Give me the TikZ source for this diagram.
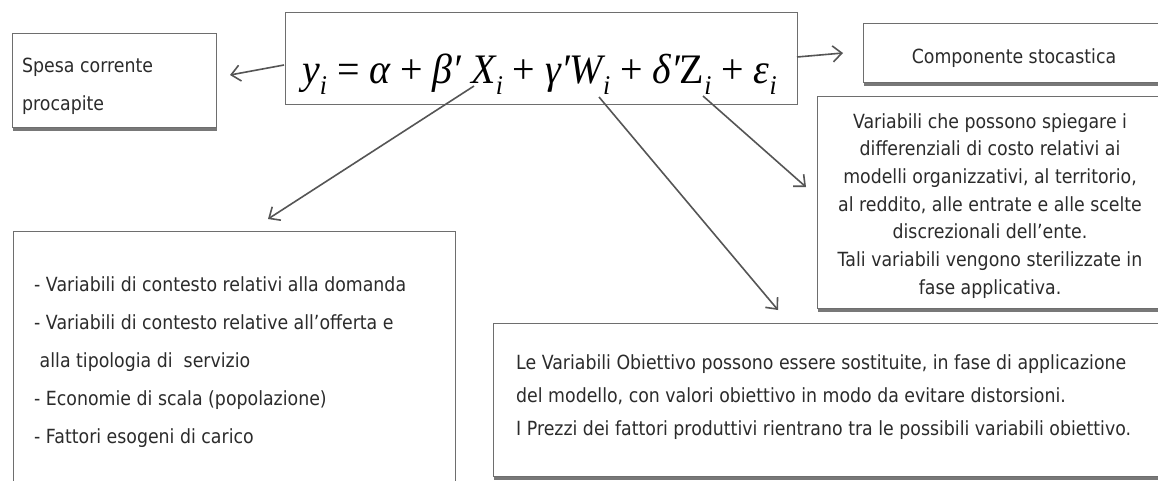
\documentclass[tikz,border=0pt]{standalone}
\usepackage{fontspec}
\setmainfont{DejaVu Sans}[FakeStretch=0.89]
\newfontfamily\eqfont{Liberation Serif}[FakeStretch=0.95]
\usetikzlibrary{arrows.meta,shadows}
\definecolor{boxgray}{HTML}{6E6E6E}
\definecolor{textgray}{HTML}{2B2B2B}
\definecolor{arrgray}{HTML}{555555}
\newcommand{\sbi}{\raisebox{-0.28em}{\fontsize{27}{27}\selectfont\itshape i}}
\begin{document}
\begin{tikzpicture}[x=1pt,y=-1pt,
  box/.style={draw=boxgray, line width=1.2pt, fill=white, inner sep=0pt, anchor=north west},
  shbox/.style={box, drop shadow={shadow xshift=0.5pt, shadow yshift=-3.5pt, fill=black!75, opacity=0.7}},
  txt/.style={inner sep=0pt, text=textgray, font=\fontsize{19.5}{19.5}\selectfont},
  arr/.style={draw=arrgray, line width=1.6pt, -{Straight Barb[length=9pt,width=16pt,line width=1.6pt]}}]
\fill[white] (0,0) rectangle (1158,480);
\useasboundingbox (0,0) rectangle (1158,480);

% boxes
\node[shbox, minimum width=204, minimum height=94] (spesa) at (12,33) {};
\node[box, minimum width=512, minimum height=92] (eq) at (285,12) {};
\node[shbox, minimum width=310, minimum height=59] (comp) at (863,23) {};
\node[shbox, minimum width=355, minimum height=212] (varz) at (817,96) {};
\node[box, minimum width=442, minimum height=270] (ctx) at (13,231) {};
\node[shbox, minimum width=680, minimum height=153] (obj) at (493,323) {};

% texts
\node[txt, anchor=base west] (sp1) at (22,72) {Spesa corrente};
\node[txt, anchor=base west] (sp2) at (22,110) {procapite};
\node[txt, anchor=base] (cs) at (1014,63) {Componente stocastica};

\node[inner sep=0pt, anchor=base west, text=black, font=\eqfont\fontsize{42}{42}\selectfont] (eqt) at (302,83)
  {{\itshape y\sbi} = {\itshape α} + {\itshape β′ X\sbi} + {\itshape γ′W\sbi} + {\itshape δ′}Z\sbi{} + {\itshape ε\sbi}};

\foreach \t [count=\i] in {Variabili che possono spiegare i,
  differenziali di costo relativi ai,
  {modelli organizzativi, al territorio,},
  {al reddito, alle entrate e alle scelte},
  discrezionali dell’ente.,
  Tali variabili vengono sterilizzate in,
  fase applicativa.}
  \node[txt, anchor=base] (vz\i) at (990,{128+27.7*(\i-1)}) {\t};

\foreach \t [count=\i] in {- Variabili di contesto relativi alla domanda,
  - Variabili di contesto relative all’offerta e,
  {\ alla tipologia di\ \ servizio},
  - Economie di scala (popolazione),
  - Fattori esogeni di carico}
  \node[txt, anchor=base west] (cx\i) at (34,{291+38*(\i-1)}) {\t};

\foreach \t [count=\i] in {{Le Variabili Obiettivo possono essere sostituite, in fase di applicazione},
  {del modello, con valori obiettivo in modo da evitare distorsioni.},
  I Prezzi dei fattori produttivi rientrano tra le possibili variabili obiettivo.}
  \node[txt, anchor=base west] (ob\i) at (516,{369+33*(\i-1)}) {\t};

% connectors
\coordinate (a1s) at (284,65); \coordinate (a1t) at (230,75);
\coordinate (a2s) at (797,57); \coordinate (a2t) at (843,53);
\coordinate (a3s) at (474,86); \coordinate (a3t) at (268,219);
\coordinate (a4s) at (599,97); \coordinate (a4t) at (778,310);
\coordinate (a5s) at (703,96); \coordinate (a5t) at (806,187);
\draw[arr] (a1s) -- (a1t);
\draw[arr] (a2s) -- (a2t);
\draw[arr] (a3s) -- (a3t);
\draw[arr] (a4s) -- (a4t);
\draw[arr] (a5s) -- (a5t);
\end{tikzpicture}
\end{document}
